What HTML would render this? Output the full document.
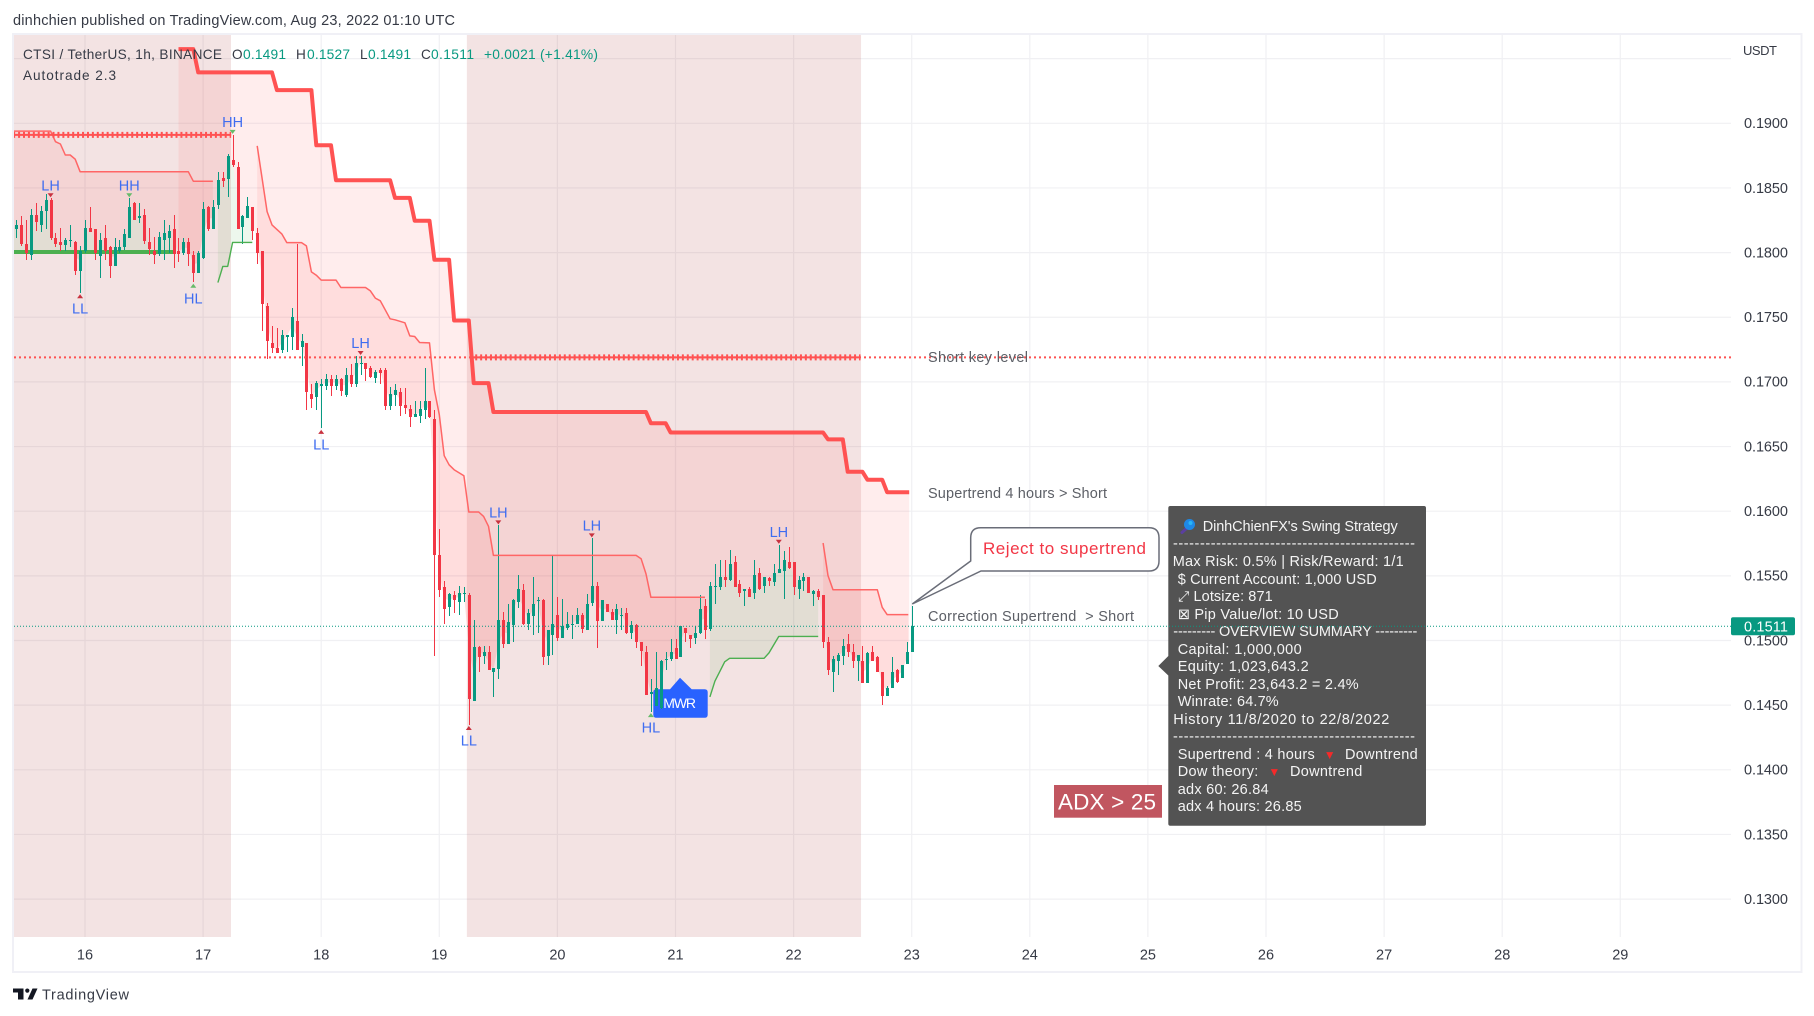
<!DOCTYPE html>
<html lang="en">
<head>
<meta charset="utf-8">
<title>CTSI / TetherUS, 1h, BINANCE</title>
<style>
html,body{margin:0;padding:0;background:#fff;width:1814px;height:1016px;overflow:hidden}
svg{display:block}
text{font-family:"Liberation Sans","DejaVu Sans",sans-serif}
.axis{font-size:14.5px;fill:#363a45}
.head{font-size:14.5px;fill:#363a45}
.leg{font-size:13.6px;fill:#363a45}
.val{font-size:13.8px;fill:#089981}
.note{font-size:14.5px;fill:#5c5f66}
.tip{font-size:14.5px;fill:#f4f4f4}
</style>
</head>
<body>
<svg id="chart" xmlns="http://www.w3.org/2000/svg" width="1814" height="1016" viewBox="0 0 1814 1016">
  <text class="head" x="13" y="25" textLength="442">dinhchien published on TradingView.com, Aug 23, 2022 01:10 UTC</text>
  <rect x="13" y="34" width="1788.5" height="938" fill="#fff" stroke="#f0f0f6" stroke-width="2"/>
  <defs>
    <clipPath id="pane-clip"><rect x="14" y="35" width="1717" height="902"/></clipPath>
  </defs>
  <g id="grid"></g>
  <g id="regions" clip-path="url(#pane-clip)"></g>
  <g id="fills" clip-path="url(#pane-clip)"></g>
  <g id="thick-green" clip-path="url(#pane-clip)"></g>
  <g id="mwr">
    <path d="M656.3 689.3H670L680 677.7L691.7 689.3H704.7Q707.7 689.3 707.7 692.3V714.7Q707.7 717.7 704.7 717.7H656.3Q653.3 717.7 653.3 714.7V692.3Q653.3 689.3 656.3 689.3Z" fill="#2962ff"/>
  </g>
  <g id="candles" clip-path="url(#pane-clip)"></g>
  <text x="663.3" y="708" font-size="14" fill="#fff" textLength="32.7">MWR</text>
  <g id="lines" clip-path="url(#pane-clip)"></g>
  <g id="levels" clip-path="url(#pane-clip)"></g>
  <g id="pivots"></g>

  <text class="note" x="928" y="362" textLength="100">Short key level</text>
  <text class="note" x="928" y="498" textLength="179">Supertrend 4 hours &gt; Short</text>
  <text class="note" x="928" y="621" textLength="206">Correction Supertrend &#160;&gt; Short</text>

  <path d="M970.7 561V537.7Q970.7 527.7 980.7 527.7H1149Q1159 527.7 1159 537.7V561Q1159 571 1149 571H981L912.3 604Z" fill="#fff" stroke="#6a6d78" stroke-width="1.5"/>
  <text x="983" y="554" font-size="17" fill="#f23645" textLength="163">Reject to supertrend</text>

  <rect x="1054" y="785" width="108" height="32.7" fill="#c15660"/>
  <text x="1058" y="809.5" font-size="22.5" fill="#fff" textLength="98">ADX &gt; 25</text>

  <g>
    <path d="M1170.3 506H1424Q1426 506 1426 508V823.7Q1426 825.7 1424 825.7H1170.3Q1168.3 825.7 1168.3 823.7V675.5L1158.3 666L1168.3 656V508Q1168.3 506 1170.3 506Z" fill="#535353"/>
    <g>
      <line x1="1187" y1="528" x2="1182" y2="532.5" stroke="#5b3fa0" stroke-width="3" stroke-linecap="round"/>
      <circle cx="1189.5" cy="524.5" r="5.5" fill="#1e88e5"/>
      <circle cx="1190.5" cy="523" r="2" fill="#29b6f6"/>
    </g>
    <text class="tip" x="1202.7" y="531" textLength="195">DinhChienFX's Swing Strategy</text>
    <text class="tip" x="1173" y="548" textLength="242">---------------------------------------------</text>
    <text class="tip" x="1172.7" y="566" textLength="231">Max Risk: 0.5% | Risk/Reward: 1/1</text>
    <text class="tip" x="1177.7" y="584" textLength="199">$ Current Account: 1,000 USD</text>
    <text class="tip" x="1177.7" y="601" textLength="95">⤢ Lotsize: 871</text>
    <text class="tip" x="1177.7" y="619" textLength="161">⊠ Pip Value/lot: 10 USD</text>
    <text class="tip" x="1173.3" y="636" textLength="244">--------- OVERVIEW SUMMARY ---------</text>
    <text class="tip" x="1177.7" y="654" textLength="124">Capital: 1,000,000</text>
    <text class="tip" x="1177.7" y="671" textLength="131">Equity: 1,023,643.2</text>
    <text class="tip" x="1177.7" y="689" textLength="181">Net Profit: 23,643.2 = 2.4%</text>
    <text class="tip" x="1177.7" y="706" textLength="101">Winrate: 64.7%</text>
    <text class="tip" x="1173.3" y="724" textLength="216">History 11/8/2020 to 22/8/2022</text>
    <text class="tip" x="1173" y="741" textLength="242">---------------------------------------------</text>
    <text class="tip" x="1177.7" y="759" textLength="137">Supertrend : 4 hours</text>
    <text x="1329.7" y="759" font-size="12" text-anchor="middle" fill="#f52a2a">▼</text>
    <text class="tip" x="1345" y="759" textLength="72.7">Downtrend</text>
    <text class="tip" x="1177.7" y="776" textLength="80.6">Dow theory:</text>
    <text x="1274.3" y="776" font-size="12" text-anchor="middle" fill="#f52a2a">▼</text>
    <text class="tip" x="1290" y="776" textLength="72.3">Downtrend</text>
    <text class="tip" x="1177.7" y="794" textLength="91">adx 60: 26.84</text>
    <text class="tip" x="1177.7" y="811" textLength="124">adx 4 hours: 26.85</text>
  </g>

  <g id="price-line"></g>
  <g id="axis-labels"></g>

  <g>
    <text class="leg" x="23" y="59" textLength="199">CTSI / TetherUS, 1h, BINANCE</text>
    <text class="leg" x="23" y="80" textLength="93">Autotrade 2.3</text>
    <text class="leg" x="232" y="59">O</text>
    <text class="val" x="243" y="59" textLength="43">0.1491</text>
    <text class="leg" x="296" y="59">H</text>
    <text class="val" x="307" y="59" textLength="43">0.1527</text>
    <text class="leg" x="360" y="59">L</text>
    <text class="val" x="368" y="59" textLength="43">0.1491</text>
    <text class="leg" x="421" y="59">C</text>
    <text class="val" x="431" y="59" textLength="43">0.1511</text>
    <text class="val" x="484" y="59" textLength="114">+0.0021 (+1.41%)</text>
    <text x="1743" y="55" font-size="13" fill="#363a45" textLength="34">USDT</text>
  </g>

  <g>
    <path d="M13 988.5H23.5V999.5H18V992.5H13Z" fill="#131722"/>
    <circle cx="27.3" cy="990.6" r="2.1" fill="#131722"/>
    <path d="M32.5 988.5H37.5L32.5 999.5H27.5Z" fill="#131722"/>
  </g>
  <text x="42" y="999.5" font-size="14.5" fill="#363a45" textLength="87">TradingView</text>
</svg>
<script>
// ---- chart data ----
var firstBar = -14; // hours relative to Aug 16 00:00
var opens = [
.1818,.1821,.1807,.1798,.1829,.1821,.1832,.1841,.1811,.1808,
.1806,.1810,.1808,.1786,.1801,.1819,.1818,.1797,.1811,.1804,
.1790,.1801,.1804,.1811,.1838,.1827,.1829,.1808,.1801,.1799,
.1810,.1811,.1818,.1801,.1800,.1808,.1798,.1784,.1796,.1835,
.1818,.1837,.1858,.1857,.1872,.1866,.1820,.1827,.1835,.1815,
.1801,.1759,.1730,.1726,.1725,.1735,.1735,.1747,.1727,.1730,
.1691,.1688,.1697,.1697,.1702,.1697,.1702,.1690,.1705,.1698,
.1715,.1715,.1711,.1703,.1709,.1709,.1681,.1690,.1692,.1682,
.1679,.1673,.1674,.1678,.1685,.1671,.1566,.1541,.1526,.1535,
.1530,.1537,.1535,.1453,.1495,.1488,.1491,.1476,.1478,.1516,
.1497,.1512,.1530,.1539,.1513,.1519,.1531,.1531,.1488,.1504,
.1520,.1502,.1510,.1513,.1513,.1520,.1508,.1529,.1542,.1515,
.1528,.1522,.1516,.1520,.1521,.1506,.1512,.1499,.1491,.1459,
.1449,.1448,.1485,.1486,.1494,.1487,.1510,.1504,.1502,.1506,
.1527,.1509,.1541,.1541,.1549,.1547,.1561,.1544,.1538,.1540,
.1537,.1552,.1542,.1548,.1545,.1552,.1554,.1561,.1561,.1540,
.1546,.1549,.1536,.1538,.1535,.1499,.1476,.1484,.1488,.1497,
.1491,.1484,.1484,.1467,.1491,.1487,.1476,.1457,.1463,.1477,
.1471,.1482,.1491];
var highs = [
.1825,.1828,.1825,.1834,.1838,.1836,.1845,.1842,.1815,.1819,
.1811,.1821,.1809,.1805,.1825,.1835,.1818,.1815,.1821,.1805,
.1811,.1810,.1818,.1842,.1839,.1838,.1834,.1819,.1812,.1816,
.1825,.1821,.1829,.1811,.1811,.1811,.1801,.1801,.1839,.1836,
.1841,.1862,.1862,.1876,.1891,.1870,.1829,.1843,.1835,.1819,
.1801,.1761,.1743,.1742,.1740,.1736,.1757,.1807,.1737,.1730,
.1698,.1701,.1702,.1706,.1705,.1705,.1703,.1711,.1714,.1720,
.1720,.1715,.1712,.1709,.1711,.1711,.1696,.1698,.1695,.1695,
.1682,.1685,.1685,.1711,.1685,.1678,.1586,.1546,.1537,.1538,
.1542,.1541,.1537,.1516,.1496,.1496,.1496,.1479,.1589,.1522,
.1528,.1532,.1551,.1544,.1524,.1549,.1534,.1532,.1508,.1565,
.1534,.1532,.1522,.1520,.1525,.1521,.1536,.1579,.1545,.1531,
.1528,.1524,.1528,.1525,.1525,.1515,.1513,.1499,.1496,.1470,
.1491,.1485,.1491,.1501,.1501,.1511,.1510,.1504,.1511,.1535,
.1532,.1545,.1559,.1562,.1562,.1570,.1565,.1547,.1540,.1541,
.1562,.1556,.1549,.1549,.1559,.1574,.1569,.1572,.1561,.1550,
.1552,.1549,.1539,.1540,.1535,.1503,.1488,.1490,.1501,.1505,
.1497,.1489,.1496,.1491,.1496,.1488,.1476,.1465,.1487,.1478,
.1481,.1499,.1527];
var lows = [
.1811,.1805,.1794,.1794,.1817,.1816,.1818,.1810,.1804,.1801,
.1801,.1804,.1783,.1769,.1800,.1816,.1794,.1780,.1794,.1780,
.1790,.1800,.1802,.1811,.1825,.1823,.1807,.1798,.1791,.1797,
.1794,.1800,.1788,.1793,.1798,.1790,.1777,.1784,.1795,.1817,
.1818,.1834,.1851,.1843,.1866,.1818,.1807,.1827,.1810,.1791,
.1739,.1718,.1722,.1722,.1722,.1723,.1725,.1725,.1712,.1678,
.1680,.1678,.1664,.1694,.1689,.1694,.1689,.1688,.1696,.1696,
.1705,.1701,.1703,.1699,.1698,.1678,.1678,.1681,.1674,.1675,
.1665,.1673,.1668,.1671,.1672,.1488,.1534,.1513,.1519,.1521,
.1520,.1530,.1435,.1453,.1476,.1482,.1477,.1456,.1470,.1494,
.1497,.1499,.1525,.1512,.1508,.1504,.1506,.1481,.1481,.1489,
.1500,.1502,.1508,.1501,.1513,.1506,.1508,.1527,.1494,.1515,
.1522,.1516,.1505,.1508,.1505,.1501,.1494,.1480,.1458,.1445,
.1449,.1447,.1477,.1484,.1486,.1487,.1499,.1494,.1497,.1505,
.1501,.1507,.1528,.1539,.1541,.1546,.1541,.1534,.1527,.1534,
.1532,.1539,.1537,.1542,.1542,.1552,.1532,.1555,.1535,.1532,
.1538,.1537,.1527,.1531,.1494,.1473,.1460,.1473,.1481,.1487,
.1479,.1469,.1467,.1467,.1484,.1476,.1450,.1457,.1463,.1467,
.1471,.1482,.1491];
var closes = [
.1821,.1807,.1800,.1829,.1824,.1832,.1841,.1811,.1807,.1806,
.1810,.1810,.1786,.1801,.1819,.1816,.1800,.1810,.1801,.1790,
.1804,.1804,.1814,.1835,.1825,.1828,.1809,.1803,.1798,.1812,
.1815,.1817,.1799,.1799,.1808,.1799,.1784,.1800,.1834,.1818,
.1835,.1856,.1855,.1875,.1868,.1818,.1828,.1836,.1817,.1800,
.1760,.1732,.1726,.1722,.1736,.1736,.1750,.1725,.1732,.1692,
.1687,.1699,.1698,.1702,.1697,.1702,.1693,.1705,.1698,.1715,
.1715,.1710,.1704,.1708,.1707,.1681,.1691,.1694,.1681,.1680,
.1673,.1675,.1679,.1685,.1673,.1566,.1539,.1524,.1536,.1531,
.1537,.1537,.1455,.1495,.1487,.1491,.1477,.1479,.1516,.1497,
.1514,.1531,.1540,.1513,.1521,.1528,.1531,.1487,.1508,.1513,
.1502,.1511,.1513,.1513,.1520,.1509,.1528,.1542,.1515,.1531,
.1522,.1516,.1524,.1520,.1506,.1512,.1499,.1492,.1458,.1460,
.1463,.1484,.1486,.1491,.1486,.1511,.1506,.1501,.1506,.1524,
.1508,.1542,.1542,.1549,.1547,.1559,.1541,.1537,.1540,.1534,
.1551,.1540,.1549,.1546,.1552,.1555,.1562,.1556,.1541,.1547,
.1549,.1537,.1538,.1534,.1499,.1477,.1486,.1489,.1496,.1491,
.1484,.1489,.1467,.1490,.1484,.1476,.1457,.1463,.1476,.1468,
.1481,.1491,.1511];

var priceTicks = [0.19,0.185,0.18,0.175,0.17,0.165,0.16,0.155,0.15,0.145,0.14,0.135,0.13];
var gridOnlyTicks = [0.195];
var dayLabels = ["16","17","18","19","20","21","22","23","24","25","26","27","28","29"];
var dayBars = [0,24,48,72,96,120,144,168,192,216,240,264,288,312];

// 4-hour supertrend: bar where each step starts and its level
var st4hRunStarts = [19,23,39,47,51,63,67,71,75,79,83,115,119,151,155,159,163];
var st4hRunLevels = [.19574,.19394,.19257,.1883,.1856,.18423,.18247,.17944,.17475,.16991,.16767,.1668,.16609,.16555,.16305,.16244,.16147];
var st4hEndBar = 167.5;

// correction supertrend, red segments
var redABars = [-14.6,-7,-6,-5,-4,-3,-2,-1,21,22,26];
var redAPrices = [.1894,.1894,.18858,.1884,.18755,.18755,.18722,.18626,.18626,.18552,.18552];
var redBBars = [35,37,38,40,41,44,45,46,47,48,51,52,57,58,59,60,62,63,65,66,67,68,70,71,72,73,74,75,77,78,80,81,82,83,112,113,114,115,126];
var redBPrices = [.18825,.18317,.18214,.18145,.18077,.18077,.18052,.17851,.17825,.17787,.17787,.1773,.1773,.17704,.17648,.17627,.17488,.1748,.17457,.17356,.17351,.17305,.17302,.16939,.16746,.16429,.16359,.16321,.16274,.15994,.15994,.1596,.15883,.15658,.15658,.15633,.15515,.15334,.15334];
var redCBars = [150,151,152,161,162,163,167.3];
var redCPrices = [.15754,.15502,.15393,.15393,.15257,.152,.152];

// correction supertrend, green segments
var greenThickBars = [-14.6,18];
var greenThickPrices = [.18005,.18005];
var greenABars = [27,28,29,30,34];
var greenAPrices = [.17768,.17893,.17893,.18079,.18079];
var greenBBars = [127,128,130,131,138,139,141,149];
var greenBPrices = [.14564,.14685,.14835,.14862,.14862,.14904,.15032,.15032];

// shaded sessions, start and end in bars
var regionStarts = [-14.8,77.6];
var regionEnds = [29.67,157.7];

// horizontal levels
var crossLevelStarts = [-14.6,78.3];
var crossLevelEnds = [29.7,157.6];
var crossLevelPrices = [.1891,.1719];
var keyLevelPrice = .1719;
var lastPrice = .1511;

// pivots
var pivotBars = [-7,9,30,-1,22,56,48,84,103,141,78,115];
var pivotLabels = ["LH","HH","HH","LL","HL","LH","LL","LH","LH","LH","LL","HL"];

// ---- axis functions ----
function xOf(bar){ return 85 + bar * 118.1 / 24; }
function yOf(price){ return 123.3 + (0.19 - price) * 12930; }
var paneLeft = 14, paneRight = 1731, paneTop = 35, paneBottom = 937;
var NS = 'http://www.w3.org/2000/svg';
function make(tag, parentId, attrs, txt){
  var el = document.createElementNS(NS, tag);
  for (var k in attrs) el.setAttribute(k, attrs[k]);
  if (txt !== undefined) el.textContent = txt;
  document.getElementById(parentId).appendChild(el);
  return el;
}
function lineAt(bars, prices, b){
  if (b <= bars[0]) return prices[0];
  for (var i = 1; i < bars.length; i++){
    if (b <= bars[i]){
      var t = (b - bars[i-1]) / (bars[i] - bars[i-1]);
      return prices[i-1] + t * (prices[i] - prices[i-1]);
    }
  }
  return prices[prices.length-1];
}
function midAt(b){
  var n = Math.round(b) - firstBar;
  n = Math.max(0, Math.min(opens.length-1, n));
  return (opens[n] + closes[n]) / 2;
}
function pathOf(bars, prices){
  var d = '';
  for (var i = 0; i < bars.length; i++){
    d += (i ? 'L' : 'M') + xOf(bars[i]).toFixed(1) + ' ' + yOf(prices[i]).toFixed(1);
  }
  return d;
}
function fillPath(bars, prices){
  var s = bars[0], e = bars[bars.length-1], list = [s], b;
  for (b = Math.ceil(s); b < e; b++){ if (b > s) list.push(b); }
  list.push(e);
  var d = '', i;
  for (i = 0; i < list.length; i++){
    d += (i ? 'L' : 'M') + xOf(list[i]).toFixed(1) + ' ' + yOf(lineAt(bars, prices, list[i])).toFixed(1);
  }
  for (i = list.length-1; i >= 0; i--){
    d += 'L' + xOf(list[i]).toFixed(1) + ' ' + yOf(midAt(list[i])).toFixed(1);
  }
  return d + 'Z';
}

// ---- grid and axis labels ----
priceTicks.concat(gridOnlyTicks).forEach(function(p){
  var ln = make('line', 'grid', {x1: paneLeft, x2: paneRight, y1: yOf(p), y2: yOf(p), stroke: '#f0f0f3', 'stroke-width': 1.2});
  
  
});
dayBars.forEach(function(b){
  var ln = make('line', 'grid', {x1: xOf(b), x2: xOf(b), y1: paneTop, y2: paneBottom, stroke: '#f0f0f3', 'stroke-width': 1.2});
  
  
});
priceTicks.forEach(function(p){
  var t = make('text', 'axis-labels', {x: 1744, y: yOf(p) + 4.8, 'class': 'axis', textLength: 44}, p.toFixed(4));
  
  
});
dayLabels.forEach(function(label, i){
  var t = make('text', 'axis-labels', {x: xOf(dayBars[i]), y: 959.3, 'class': 'axis', 'text-anchor': 'middle'}, label);
  
  
});

// ---- shaded sessions ----
regionStarts.forEach(function(s, i){
  var x1 = Math.max(paneLeft - 1, xOf(s)), x2 = xOf(regionEnds[i]);
  var r = make('rect', 'regions', {x: x1, y: paneTop - 1, width: x2 - x1, height: paneBottom - paneTop + 1, fill: 'rgba(165,42,42,0.13)'});
  
  
});

// ---- 4h series points from its steps ----
var st4hBars = [], st4hPrices = [];
st4hRunStarts.forEach(function(s, i){
  var end = i < st4hRunStarts.length - 1 ? st4hRunStarts[i+1] - 1 : st4hEndBar;
  st4hBars.push(s, end);
  st4hPrices.push(st4hRunLevels[i], st4hRunLevels[i]);
});

// ---- fills ----
var fillRed = 'rgba(255,82,82,0.105)', fillGreen = 'rgba(76,175,80,0.1)';
var f;
f = make('path', 'fills', {d: fillPath(st4hBars, st4hPrices), fill: fillRed});


f = make('path', 'fills', {d: fillPath(redABars, redAPrices), fill: fillRed});


f = make('path', 'fills', {d: fillPath(redBBars, redBPrices), fill: fillRed});


f = make('path', 'fills', {d: fillPath(redCBars, redCPrices), fill: fillRed});


f = make('path', 'fills', {d: fillPath(greenThickBars, greenThickPrices), fill: fillGreen});


f = make('path', 'fills', {d: fillPath(greenABars, greenAPrices), fill: fillGreen});


f = make('path', 'fills', {d: fillPath(greenBBars, greenBPrices), fill: fillGreen});



var gt = make('path', 'thick-green', {d: pathOf(greenThickBars, greenThickPrices), fill: 'none', stroke: '#4caf50', 'stroke-width': 4});



// ---- candles ----
opens.forEach(function(o, i){
  var c = closes[i], h = highs[i], l = lows[i], bar = firstBar + i;
  var color = c >= o ? '#089981' : '#f23645';
  var x = Math.round(xOf(bar));
  var top = Math.round(yOf(Math.max(o, c))), bottom = Math.round(yOf(Math.min(o, c)));
  if (bottom - top < 1) bottom = top + 1;
  var w = make('rect', 'candles', {x: x, y: Math.round(yOf(h)), width: 1, height: Math.max(1, Math.round(yOf(l)) - Math.round(yOf(h))), fill: color, 'shape-rendering': 'crispEdges'});
  
  
  var b = make('rect', 'candles', {x: x - 1, y: top, width: 3, height: bottom - top, fill: color, 'shape-rendering': 'crispEdges'});
  
  
});

// ---- lines ----
var ln;
ln = make('path', 'lines', {d: pathOf(st4hBars, st4hPrices), fill: 'none', stroke: '#ff5252', 'stroke-width': 4, 'stroke-linejoin': 'round'});


var thinRed = {fill: 'none', stroke: '#ff6666', 'stroke-width': 1.5, 'stroke-linejoin': 'round'};
var thinGreen = {fill: 'none', stroke: '#4caf50', 'stroke-width': 1.4, 'stroke-linejoin': 'round'};
function styled(base, d){ var o = {d: d}; for (var k in base) o[k] = base[k]; return o; }
ln = make('path', 'lines', styled(thinRed, pathOf(redABars, redAPrices)));


ln = make('path', 'lines', styled(thinRed, pathOf(redBBars, redBPrices)));


ln = make('path', 'lines', styled(thinRed, pathOf(redCBars, redCPrices)));


ln = make('path', 'lines', styled(thinGreen, pathOf(greenABars, greenAPrices)));


ln = make('path', 'lines', styled(thinGreen, pathOf(greenBBars, greenBPrices)));



// ---- key levels ----
var kl = make('line', 'levels', {x1: paneLeft, x2: paneRight, y1: yOf(keyLevelPrice), y2: yOf(keyLevelPrice), stroke: '#ff5252', 'stroke-width': 2, 'stroke-dasharray': '2 3'});


crossLevelStarts.forEach(function(s, i){
  var x1 = xOf(s), x2 = xOf(crossLevelEnds[i]), y = yOf(crossLevelPrices[i]);
  var a = make('line', 'levels', {x1: x1, x2: x2, y1: y, y2: y, stroke: '#ff5252', 'stroke-width': 2});
  
  
  var b = make('line', 'levels', {x1: x1, x2: x2, y1: y, y2: y, stroke: '#ff5252', 'stroke-width': 6, 'stroke-dasharray': '2 2.92'});
  
  
});

// ---- pivots ----
pivotBars.forEach(function(bar, i){
  var n = bar - firstBar, label = pivotLabels[i];
  var isHigh = label.charAt(1) === 'H';
  var x = xOf(bar), anchor = isHigh ? yOf(highs[n]) : yOf(lows[n]);
  var green = label === 'HH' || label === 'HL';
  var color = green ? '#66bb6a' : '#c8323f';
  var tri = isHigh
    ? [x-3, anchor-5, x+3, anchor-5, x, anchor-1]
    : [x-3, anchor+5.5, x+3, anchor+5.5, x, anchor+1.5];
  var m = make('polygon', 'pivots', {points: tri.map(function(v){ return v.toFixed(1); }).join(' '), fill: color});
  
  
  var t = make('text', 'pivots', {x: x, y: isHigh ? anchor - 8 : anchor + 21, 'text-anchor': 'middle', 'font-size': 14.5, fill: '#3f6df0'}, label);
  
  
});

// ---- last price ----
var lp = make('line', 'price-line', {x1: paneLeft, x2: paneRight, y1: yOf(lastPrice), y2: yOf(lastPrice), stroke: '#089981', 'stroke-width': 1, 'stroke-dasharray': '1 2'});


var tagBg = make('rect', 'axis-labels', {x: 1731, y: yOf(lastPrice) - 9, width: 64, height: 18, rx: 2, fill: '#089981'});


var tagTx = make('text', 'axis-labels', {x: 1744, y: yOf(lastPrice) + 5, 'font-size': 14.5, fill: '#fff', textLength: 44}, lastPrice.toFixed(4));


</script>
</body>
</html>
